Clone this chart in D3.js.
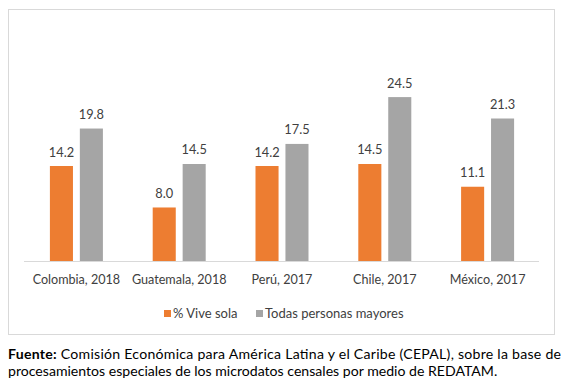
<!DOCTYPE html>
<html><head><meta charset="utf-8">
<script src="https://cdn.jsdelivr.net/npm/d3@7"></script>
<style>
html,body{margin:0;padding:0;background:#fff;}
svg{display:block;font-family:Lato, "Open Sans", sans-serif;}
</style></head>
<body>
<svg id="c" width="567" height="391"></svg>
<script>
const categories = ["Colombia, 2018","Guatemala, 2018","Perú, 2017","Chile, 2017","México, 2017"];
const seriesNames = ["% Vive sola","Todas personas mayores"];
const viveSola = [14.2, 8.0, 14.2, 14.5, 11.1];
const todas = [19.8, 14.5, 17.5, 24.5, 21.3];
const colors = ["#ED7D31","#A5A5A5"];

const svg = d3.select("#c");
// chart border
svg.append("rect").attr("x",8.5).attr("y",9.5).attr("width",546).attr("height",325)
  .attr("fill","#fff").attr("stroke","#D9D9D9").attr("stroke-width",1);

const left=25, right=539, base=261;
const x0 = d3.scaleBand().domain(categories).range([left,right]).padding(0);
const groupW = 53;
const x1 = d3.scaleBand().domain(seriesNames).range([0,groupW]).paddingInner(0.23).paddingOuter(0);
const y = d3.scaleLinear().domain([0,30]).range([base, base-30*6.69]);

const data = categories.map((c,i)=>({cat:c, vals:[viveSola[i], todas[i]]}));
const g = svg.selectAll("g.grp").data(data).join("g").attr("class","grp")
  .attr("transform",d=>`translate(${x0(d.cat)+(x0.bandwidth()-groupW)/2},0)`);
g.selectAll("rect").data(d=>d.vals.map((v,j)=>({v, s:seriesNames[j], j})))
  .join("rect")
  .attr("x",d=>x1(d.s)).attr("width",x1.bandwidth())
  .attr("y",d=>y(d.v)).attr("height",d=>y(0)-y(d.v))
  .attr("fill",d=>colors[d.j]);
g.selectAll("text").data(d=>d.vals.map((v,j)=>({v, s:seriesNames[j], j})))
  .join("text")
  .attr("x",d=>x1(d.s)+x1.bandwidth()/2).attr("y",d=>y(d.v)-9.5)
  .attr("text-anchor","middle").attr("font-size",12.8).attr("fill","#404040")
  .text(d=>d3.format(".1f")(d.v));

// axis
const ax = svg.append("g").attr("transform",`translate(0,${base})`)
  .call(d3.axisBottom(x0).tickSize(0).tickPadding(0));
ax.select(".domain").attr("stroke","#D9D9D9").attr("d",`M${left-1},0.5H${right}`);
ax.selectAll("text").attr("font-size",12.6).attr("fill","#404040").attr("dy",0).attr("y",22.5)
  .attr("font-family","Lato, 'Open Sans', sans-serif");

// legend
const legX = [164, 256];
const lg = svg.selectAll("g.leg").data(seriesNames).join("g").attr("class","leg")
  .attr("transform",(d,i)=>`translate(${legX[i]},310)`);
lg.append("rect").attr("width",7).attr("height",7).attr("fill",(d,i)=>colors[i]);
lg.append("text").attr("x",9).attr("y",7.5).attr("font-size",13).attr("fill","#404040").text(d=>d);

// source
const src = svg.append("g").attr("font-size",14.1).attr("fill","#000");
const t1 = src.append("text").attr("x",8).attr("y",359).attr("textLength",553).attr("lengthAdjust","spacing");
t1.append("tspan").attr("font-weight","bold").text("Fuente:");
t1.append("tspan").text(" Comisión Económica para América Latina y el Caribe (CEPAL), sobre la base de");
src.append("text").attr("x",8).attr("y",376).text("procesamientos especiales de los microdatos censales por medio de REDATAM.");
</script>
</body></html>
